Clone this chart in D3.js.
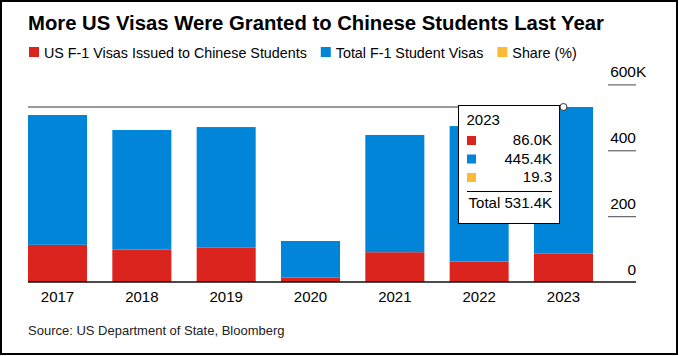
<!DOCTYPE html>
<html>
<head>
<meta charset="utf-8">
<script src="https://cdn.jsdelivr.net/npm/d3@7"></script>
<style>
  html, body { margin: 0; padding: 0; background: #fff; }
  svg { display: block; font-family: "Liberation Sans", Arial, sans-serif; }
</style>
</head>
<body>
<svg id="chart" width="679" height="356"></svg>
<script>
// ---- data ----
const years = ["2017", "2018", "2019", "2020", "2021", "2022", "2023"];
const chineseVisas = [113.0, 98.5, 105.0, 13.5, 90.5, 62.0, 86.0];   // K
const totalVisas   = [394.0, 363.0, 365.5, 111.0, 356.0, 411.5, 445.4]; // K
const sharePct     = [28.7, 27.1, 28.7, 12.2, 25.4, 15.1, 19.3];
const yTicks = [0, 200, 400, 600];
const seriesNames = ["US F-1 Visas Issued to Chinese Students", "Total F-1 Student Visas", "Share (%)"];
const colors = ["#dc241f", "#0085d9", "#fbbb35"];
const title = "More US Visas Were Granted to Chinese Students Last Year";
const source = "Source: US Department of State, Bloomberg";
const highlightIndex = 6;

const svg = d3.select("#chart");

// frame
svg.append("rect").attr("x", 1).attr("y", 1).attr("width", 676).attr("height", 353)
  .attr("fill", "#fff").attr("stroke", "#000").attr("stroke-width", 2);

// title
svg.append("text").attr("x", 28).attr("y", 30)
  .attr("font-size", 20.3).attr("font-weight", "bold").attr("fill", "#000")
  .text(title);

// legend
const lg = svg.append("g").attr("transform", "translate(29,0)");
let lx = 0;
seriesNames.forEach((name, i) => {
  lg.append("rect").attr("x", lx).attr("y", 47).attr("width", 10).attr("height", 10).attr("fill", colors[i]);
  const t = lg.append("text").attr("x", lx + 15).attr("y", 57.5)
    .attr("font-size", 14.3).attr("fill", "#000").text(name);
  lx += 15 + t.node().getComputedTextLength() + 14;
});

// scales
const x = d3.scaleBand().domain(years).range([28, 593]).paddingInner(0.3).paddingOuter(0);
const y = d3.scaleLinear().domain([0, 600]).range([282, 84.4]);

const rows = years.map((yr, i) => ({ year: yr, chinese: chineseVisas[i], total: totalVisas[i], share: sharePct[i] }));
const stack = d3.stack().keys(["chinese", "total"])(rows);

// bars
svg.append("g").selectAll("g").data(stack).join("g")
  .attr("fill", (d, i) => colors[i])
  .selectAll("rect").data(d => d).join("rect")
  .attr("x", d => x(d.data.year))
  .attr("width", x.bandwidth())
  .attr("y", d => y(d[1]))
  .attr("height", d => y(d[0]) - y(d[1]));

// y axis (right)
const yAxis = d3.axisRight(y).tickValues(yTicks).tickSize(0).tickFormat(d => d);
const ya = svg.append("g").attr("transform", "translate(636,0)").call(yAxis);
ya.select(".domain").remove();
ya.selectAll(".tick text")
  .attr("x", 0).attr("dy", -7.5).attr("text-anchor", "end")
  .attr("font-size", 15.5).attr("fill", "#000").attr("font-family", "Liberation Sans, Arial, sans-serif");
ya.selectAll(".tick").filter(d => d === 600).append("text")
  .attr("x", 0).attr("dy", -7.5).attr("text-anchor", "start")
  .attr("font-size", 15.5).attr("fill", "#000").text("K");
ya.selectAll(".tick").filter(d => d !== 0).append("line")
  .attr("x1", -28).attr("x2", 0).attr("stroke", "#666").attr("stroke-width", 1.2);

// baseline
svg.append("line").attr("x1", 28).attr("x2", 636).attr("y1", y(0)).attr("y2", y(0))
  .attr("stroke", "#111").attr("stroke-width", 1.5);

// x axis labels
const xAxis = d3.axisBottom(x).tickSize(0).tickPadding(0);
const xa = svg.append("g").attr("transform", `translate(0,${y(0)})`).call(xAxis);
xa.select(".domain").remove();
xa.selectAll(".tick text").attr("y", 19.5).attr("dy", 0)
  .attr("font-size", 15).attr("fill", "#000").attr("font-family", "Liberation Sans, Arial, sans-serif");

// source
svg.append("text").attr("x", 28).attr("y", 335).attr("font-size", 13).attr("fill", "#222").text(source);

// crosshair + tooltip
const hr = rows[highlightIndex];
const hTotal = hr.chinese + hr.total;
const hy = y(hTotal);
const hx = x(hr.year) + x.bandwidth() / 2;
svg.append("line").attr("x1", 28).attr("x2", hx).attr("y1", hy).attr("y2", hy)
  .attr("stroke", "#777").attr("stroke-width", 1.5);

const tip = svg.append("g").attr("transform", "translate(458,105)");
tip.append("rect").attr("x", 0.5).attr("y", 0.5).attr("width", 101).attr("height", 118)
  .attr("fill", "#fff").attr("stroke", "#000").attr("stroke-width", 1);
tip.append("text").attr("x", 8.5).attr("y", 19.5).attr("font-size", 15).attr("fill", "#000").text(hr.year);
const tipVals = [d3.format(".1f")(hr.chinese) + "K", d3.format(".1f")(hr.total) + "K", d3.format(".1f")(hr.share)];
tipVals.forEach((v, i) => {
  tip.append("rect").attr("x", 9).attr("y", 31 + i * 18.5).attr("width", 9).attr("height", 9).attr("fill", colors[i]);
  tip.append("text").attr("x", 94).attr("y", 40 + i * 18.5).attr("text-anchor", "end")
    .attr("font-size", 15).attr("fill", "#000").text(v);
});
tip.append("line").attr("x1", 9).attr("x2", 94).attr("y1", 86.5).attr("y2", 86.5).attr("stroke", "#000").attr("stroke-width", 1);
tip.append("text").attr("x", 94).attr("y", 102.5).attr("text-anchor", "end")
  .attr("font-size", 15).attr("fill", "#000").text("Total " + d3.format(".1f")(hTotal) + "K");

svg.append("circle").attr("cx", hx).attr("cy", hy).attr("r", 3.5)
  .attr("fill", "#fff").attr("stroke", "#333").attr("stroke-width", 1);
</script>
</body>
</html>
